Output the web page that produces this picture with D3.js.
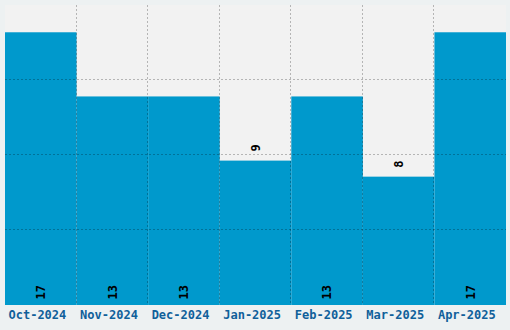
<!DOCTYPE html>
<html>
<head>
<meta charset="utf-8">
<script src="https://cdn.jsdelivr.net/npm/d3@7"></script>
<style>
  html, body { margin: 0; padding: 0; background: #edf1f2; }
  svg { display: block; }
</style>
</head>
<body>
<script>
'use strict';

var months = ['Oct-2024', 'Nov-2024', 'Dec-2024', 'Jan-2025', 'Feb-2025', 'Mar-2025', 'Apr-2025'];
var counts = [17, 13, 13, 9, 13, 8, 17];

var width = 510,
    height = 330,
    margin = {top: 5, right: 4, bottom: 25, left: 5};

var svg = d3.select('body').append('svg')
    .attr('width', width)
    .attr('height', height);

var x = d3.scaleBand()
    .domain(months)
    .range([margin.left, width - margin.right]);

var y = d3.scaleLinear()
    .domain([0, d3.max(counts) * 1.1])
    .range([height - margin.bottom, margin.top]);

var data = months.map(function(m, i) { return {month: m, value: counts[i]}; });

// plot background
svg.append('rect')
    .attr('x', margin.left)
    .attr('y', margin.top)
    .attr('width', width - margin.left - margin.right)
    .attr('height', height - margin.top - margin.bottom)
    .attr('fill', '#f2f2f2');

svg.append('g')
  .selectAll('rect')
  .data(data)
  .enter().append('rect')
    .attr('x', function(d) { return x(d.month); })
    .attr('y', function(d) { return y(d.value); })
    .attr('width', x.bandwidth())
    .attr('height', function(d) { return y(0) - y(d.value); })
    .attr('fill', '#0099cc');

// grid: band boundaries and quarters of the plot height
var grid = svg.append('g')
    .attr('stroke', 'rgba(0,0,0,0.25)')
    .attr('stroke-dasharray', '2,2')
    .attr('stroke-width', 1);

grid.selectAll('line.v')
  .data(months.slice(1))
  .enter().append('line')
    .attr('class', 'v')
    .attr('x1', function(d) { return Math.round(x(d)) - 0.5; })
    .attr('x2', function(d) { return Math.round(x(d)) - 0.5; })
    .attr('y1', margin.top)
    .attr('y2', y(0));

var yMax = y.domain()[1];
grid.selectAll('line.h')
  .data([0.25, 0.5, 0.75].map(function(f) { return yMax * f; }))
  .enter().append('line')
    .attr('class', 'h')
    .attr('x1', margin.left)
    .attr('x2', width - margin.right)
    .attr('y1', function(d) { return Math.round(y(d)) - 0.5; })
    .attr('y2', function(d) { return Math.round(y(d)) - 0.5; });

// value labels, rotated
svg.append('g')
  .selectAll('text')
  .data(data)
  .enter().append('text')
    .attr('transform', function(d) {
      var ty = d.value < 10 ? y(d.value) - 9 : y(0) - 5.5;
      return 'translate(' + (x(d.month) + x.bandwidth() / 2) + ',' + ty + ') rotate(-90)';
    })
    .attr('dy', '0.36em')
    .attr('font-family', '"DejaVu Sans Mono", monospace')
    .attr('font-weight', 'bold')
    .attr('font-size', '12px')
    .attr('fill', '#000')
    .text(function(d) { return d.value; });

// month labels
svg.append('g')
  .selectAll('text')
  .data(months)
  .enter().append('text')
    .attr('x', function(d) { return x(d) + 3.5; })
    .attr('y', 319)
    .attr('font-family', '"DejaVu Sans Mono", monospace')
    .attr('font-weight', 'bold')
    .attr('font-size', '12px')
    .attr('fill', '#10609a')
    .text(function(d) { return d; });
</script>
</body>
</html>
